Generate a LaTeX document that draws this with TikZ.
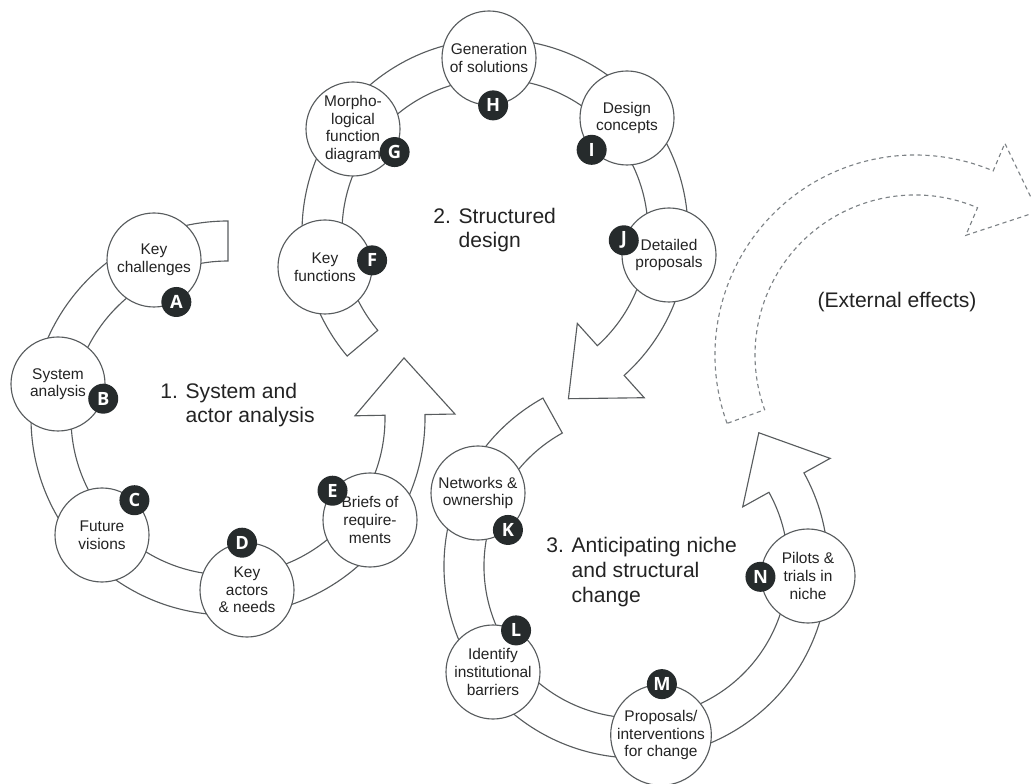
\documentclass[tikz,border=0pt]{standalone}
\usepackage{fontspec}
\setmainfont{Liberation Sans}
\newfontfamily\badgefont{Open Sans}
\usetikzlibrary{calc}
\definecolor{linegray}{RGB}{88,92,94}
\definecolor{dashgray}{RGB}{125,130,134}
\definecolor{badgedark}{RGB}{38,43,44}
\definecolor{textdark}{RGB}{35,35,35}

\begin{document}
\begin{tikzpicture}[x=0.25mm, y=0.25mm,
	st/.style = {circle, draw=linegray, fill=white, line width=0.8pt, minimum size=23.5mm, inner sep=0pt, align=center, text=textdark, font=\fontsize{11}{12.5}\selectfont},
	bd/.style = {circle, fill=badgedark, text=white, minimum size=7.5mm, inner sep=0pt, font=\badgefont\bfseries\fontsize{13}{13}\selectfont},
	band/.style = {draw=linegray, fill=white, line width=0.8pt, line join=miter},
	ext/.style = {draw=dashgray, line width=0.8pt, dash pattern=on 3pt off 2.5pt},
	ttl/.style = {align=left, anchor=west, text=textdark, font=\fontsize{15}{17.5}\selectfont, inner sep=0pt}
	]
	\useasboundingbox (0, 0) rectangle (1031, 783);
	
	% === === Bands === ===
	\coordinate (c1) at (228, 365);
	\coordinate (c2) at (495, 551);
	\coordinate (c3) at (636, 217);
	\coordinate (c4) at (915, 428);
	
	\draw[band]	($(c1)+(90:197)$) arc[start angle=90, end angle=361, radius=197]
		-- ($(c1)+(361:227)$) -- ($(c1)+(361:177)+(91:57)$) -- ($(c1)+(361:127)$)
		-- ($(c1)+(361:157)$) arc[start angle=361, end angle=90, radius=157] -- cycle;
	\draw[band]	($(c2)+(220:193)$) arc[start angle=220, end angle=-48, radius=193]
		-- ($(c2)+(-48:223)$) -- ($(c2)+(-48:173)+(-138:57)$) -- ($(c2)+(-48:123)$)
		-- ($(c2)+(-48:153)$) arc[start angle=-48, end angle=220, radius=153] -- cycle;
	\draw[band]	($(c3)+(119:192)$) arc[start angle=119, end angle=389, radius=192]
		-- ($(c3)+(389:222)$) -- ($(c3)+(389:172)+(119:57)$) -- ($(c3)+(389:122)$)
		-- ($(c3)+(389:152)$) arc[start angle=389, end angle=119, radius=152] -- cycle;
	\begin{scope}
		\clip (0, 0) rectangle (1031, 783);
		\draw[ext]	($(c4)+(200:200)$) arc[start angle=200, end angle=67, radius=200]
			-- ($(c4)+(67:230)$) -- ($(c4)+(67:180)+(-23:57)$) -- ($(c4)+(67:130)$)
			-- ($(c4)+(67:160)$) arc[start angle=67, end angle=200, radius=160] -- cycle;
	\end{scope}
	
	% === === Stages === ===
	\node[st]	(A)	at	(154, 523)	{Key\\challenges};
	\node[st]	(B)	at	(58, 399)	{System\\analysis};
	\node[st]	(C)	at	(102, 248)	{Future\\visions};
	\node[st]	(D)	at	(247, 193)	{Key\\actors\\\& needs};
	\node[st]	(E)	at	(370, 263)	{Briefs of\\require-\\ments};
	
	\node[st]	(F)	at	(325, 516)	{Key\\functions};
	\node[st]	(G)	at	(353, 654)	{Morpho-\\logical\\function\\diagram};
	\node[st]	(H)	at	(489, 725)	{Generation\\of solutions};
	\node[st]	(I)	at	(627, 665)	{Design\\concepts};
	\node[st]	(J)	at	(669, 528)	{Detailed\\proposals};
	
	\node[st]	(K)	at	(478, 290)	{Networks \&\\ownership};
	\node[st]	(L)	at	(493, 111)	{Identify\\institutional\\barriers};
	\node[st]	(M)	at	(661, 48)	{Proposals/\\interventions\\for change};
	\node[st]	(N)	at	(808, 207)	{Pilots \&\\trials in\\niche};
	
	% === === Badges === ===
	\node[bd]	(bA)	at	(A.-62)		{A};
	\node[bd]	(bB)	at	(B.-18)		{B};
	\node[bd]	(bC)	at	(C.47)		{C};
	\node[bd]	(bD)	at	(D.96)		{D};
	\node[bd]	(bE)	at	(E.142)		{E};
	\node[bd]	(bF)	at	(F.8)		{F};
	\node[bd]	(bG)	at	(G.-29)		{G};
	\node[bd]	(bH)	at	(H.-85)		{H};
	\node[bd]	(bI)	at	(I.-138)	{I};
	\node[bd]	(bJ)	at	(J.162)		{J};
	\node[bd]	(bK)	at	(K.-51)		{K};
	\node[bd]	(bL)	at	(L.61)		{L};
	\node[bd]	(bM)	at	(M.89)		{M};
	\node[bd]	(bN)	at	(N.181)		{N};
	
	% === === Titles === ===
	\node[ttl]	(t1)	at	(160, 378)	{1. System and\\\phantom{1. }actor analysis};
	\node[ttl]	(t2)	at	(433, 553)	{2. Structured\\\phantom{2. }design};
	\node[ttl]	(t3)	at	(546, 211)	{3. Anticipating niche\\\phantom{3. }and structural\\\phantom{3. }change};
	\node[text=textdark, font=\fontsize{15}{17.5}\selectfont]	(ext)	at	(897, 481)	{(External effects)};
	
\end{tikzpicture}
\end{document}
